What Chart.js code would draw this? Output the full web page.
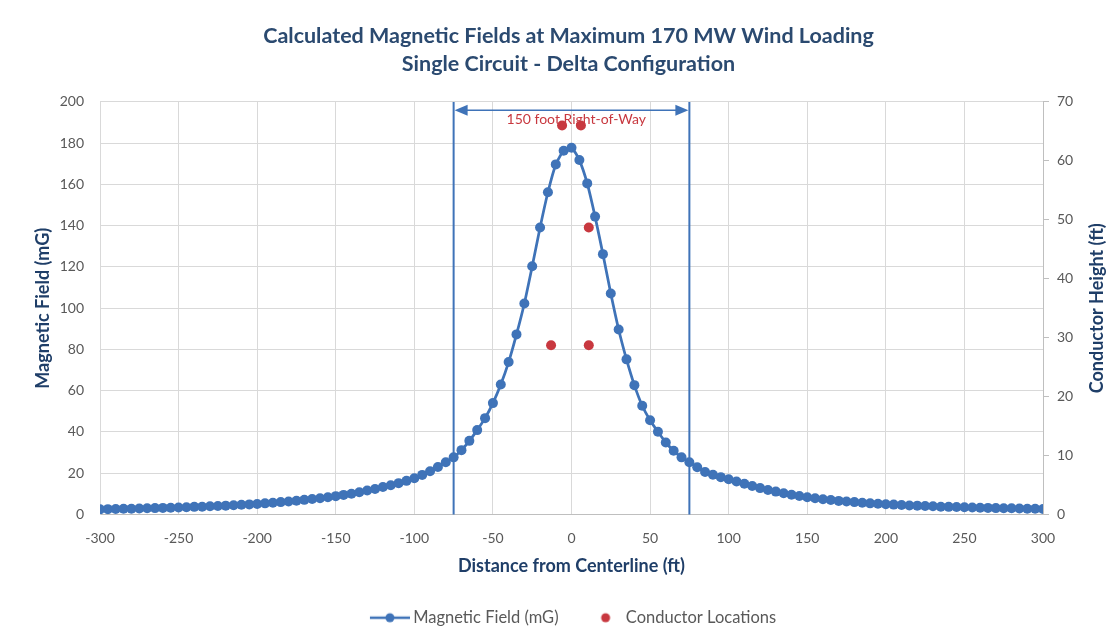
<!DOCTYPE html>
<html>
<head>
<meta charset="utf-8">
<script src="https://cdn.jsdelivr.net/npm/chart.js@4/dist/chart.umd.min.js"></script>
<style>
	html, body { margin: 0; padding: 0; background: #ffffff; }
	#wrap { width: 1113px; height: 640px; }
</style>
</head>
<body>
<div id="wrap"><canvas id="fieldChart" width="1113" height="640"></canvas></div>
<script type="text/javascript">
	/*jshint esversion: 6 */
	var distances = [
		-300, -295, -290, -285, -280, -275, -270, -265, -260, -255, -250, -245, -240, -235, -230, -225,
		-220, -215, -210, -205, -200, -195, -190, -185, -180, -175, -170, -165, -160, -155, -150, -145,
		-140, -135, -130, -125, -120, -115, -110, -105, -100, -95, -90, -85, -80, -75, -70, -65,
		-60, -55, -50, -45, -40, -35, -30, -25, -20, -15, -10, -5, 0, 5, 10, 15,
		20, 25, 30, 35, 40, 45, 50, 55, 60, 65, 70, 75, 80, 85, 90, 95,
		100, 105, 110, 115, 120, 125, 130, 135, 140, 145, 150, 155, 160, 165, 170, 175,
		180, 185, 190, 195, 200, 205, 210, 215, 220, 225, 230, 235, 240, 245, 250, 255,
		260, 265, 270, 275, 280, 285, 290, 295, 300
	];
	var fieldValues = [
		2.5, 2.6, 2.7, 2.8, 2.8, 2.9, 3.0, 3.1, 3.2, 3.3, 3.4, 3.5, 3.7, 3.8, 4.0, 4.1,
		4.3, 4.5, 4.7, 4.9, 5.1, 5.4, 5.7, 6.0, 6.3, 6.7, 7.1, 7.5, 7.9, 8.4, 8.9, 9.5,
		10.1, 10.8, 11.6, 12.4, 13.3, 14.2, 15.2, 16.3, 17.6, 19.2, 21.0, 23.0, 25.3, 27.7, 31.2, 35.7,
		40.9, 46.7, 54.0, 63.0, 73.9, 87.3, 102.3, 120.3, 139.1, 156.2, 169.7, 176.3, 177.8, 171.8, 160.5, 144.4,
		126.2, 107.1, 89.7, 75.2, 62.7, 52.7, 45.7, 40.1, 34.9, 30.9, 27.7, 25.3, 22.9, 20.6, 19.3, 18.1,
		17.1, 16.0, 14.9, 13.8, 12.8, 11.9, 11.1, 10.3, 9.6, 9.0, 8.4, 7.9, 7.4, 7.0, 6.6, 6.3,
		6.0, 5.7, 5.4, 5.2, 5.0, 4.8, 4.6, 4.4, 4.3, 4.1, 4.0, 3.8, 3.7, 3.6, 3.5, 3.4,
		3.3, 3.2, 3.1, 3.0, 3.0, 2.9, 2.8, 2.8, 2.7
	];
	var conductorX = [-6, 6, 11, -13, 11];
	var conductorHeight = [66, 66, 48.7, 28.7, 28.7];

	var rowEdges = [-75, 75];
	var rowArrowLevel = 196;
	var rowLabel = '150 foot Right-of-Way';
	var rowLabelX = 3;
	var rowLabelLevel = 191.5;

	var titleLines = ['Calculated Magnetic Fields at Maximum 170 MW Wind Loading', 'Single Circuit - Delta Configuration'];
	var xTitle = 'Distance from Centerline (ft)';
	var yTitle = 'Magnetic Field (mG)';
	var y2Title = 'Conductor Height (ft)';

	var colors = {
		field: '#3F73B8',
		conductor: '#C8383F',
		title: '#2B4A70',
		axisTitle: '#1F3E68',
		tick: '#595959',
		grid: '#D9D9D9',
		axis: '#BFBFBF'
	};
	var fontFamily = 'Lato, "Open Sans", sans-serif';

	function legendIcon(kind) {
		var c = document.createElement('canvas');
		var g;
		if (kind === 'line') {
			c.width = 50;
			c.height = 12;
			g = c.getContext('2d');
			g.strokeStyle = colors.field;
			g.lineWidth = 2.5;
			g.beginPath();
			g.moveTo(10, 6);
			g.lineTo(50, 6);
			g.stroke();
			g.fillStyle = colors.field;
			g.beginPath();
			g.arc(30, 6, 4.5, 0, Math.PI * 2);
			g.fill();
		} else {
			c.width = 40;
			c.height = 12;
			g = c.getContext('2d');
			g.fillStyle = colors.conductor;
			g.beginPath();
			g.arc(28, 6, 4.5, 0, Math.PI * 2);
			g.fill();
		}
		return c;
	}

	var rightOfWay = {
		id: 'rightOfWay',
		afterLayout: function(chart) {
			// the original centres title and legend a bit right of the page centre
			chart.legend.left += 14;
			chart.legend.right += 14;
			chart.titleBlock.left += 12;
			chart.titleBlock.right += 12;
		},
		beforeDatasetsDraw: function(chart) {
			var ctx = chart.ctx;
			var xs = chart.scales.x;
			var ys = chart.scales.y;
			var top = ys.getPixelForValue(ys.max);
			var bottom = ys.getPixelForValue(0);
			var ay = ys.getPixelForValue(rowArrowLevel);
			var x1 = xs.getPixelForValue(rowEdges[0]);
			var x2 = xs.getPixelForValue(rowEdges[1]);
			ctx.save();
			ctx.strokeStyle = colors.field;
			ctx.fillStyle = colors.field;
			ctx.lineWidth = 2;
			for (var i = 0; i < rowEdges.length; i++) {
				var px = xs.getPixelForValue(rowEdges[i]);
				ctx.beginPath();
				ctx.moveTo(px, top);
				ctx.lineTo(px, bottom);
				ctx.stroke();
			}
			// double arrow
			ctx.lineWidth = 1.5;
			ctx.beginPath();
			ctx.moveTo(x1 + 10, ay);
			ctx.lineTo(x2 - 10, ay);
			ctx.stroke();
			ctx.beginPath();
			ctx.moveTo(x1 + 1, ay);
			ctx.lineTo(x1 + 14, ay - 5.5);
			ctx.lineTo(x1 + 14, ay + 5.5);
			ctx.closePath();
			ctx.fill();
			ctx.beginPath();
			ctx.moveTo(x2 - 1, ay);
			ctx.lineTo(x2 - 14, ay - 5.5);
			ctx.lineTo(x2 - 14, ay + 5.5);
			ctx.closePath();
			ctx.fill();
			// label
			ctx.fillStyle = colors.conductor;
			ctx.font = '14px ' + fontFamily;
			ctx.textAlign = 'center';
			ctx.textBaseline = 'middle';
			ctx.fillText(rowLabel, xs.getPixelForValue(rowLabelX), ys.getPixelForValue(rowLabelLevel));
			ctx.restore();
		},
		afterDraw: function(chart) {
			// right axis title, read bottom to top like the left one
			var ctx = chart.ctx;
			var area = chart.chartArea;
			ctx.save();
			ctx.translate(1097, (area.top + area.bottom) / 2);
			ctx.rotate(-Math.PI / 2);
			ctx.fillStyle = colors.axisTitle;
			ctx.font = 'bold 18px ' + fontFamily;
			ctx.textAlign = 'center';
			ctx.textBaseline = 'middle';
			ctx.fillText(y2Title, 0, 0);
			ctx.restore();
		}
	};

	var fieldPoints = distances.map(function(d, i) { return { x: d, y: fieldValues[i] }; });
	var conductorPoints = conductorX.map(function(d, i) { return { x: d, y: conductorHeight[i] }; });

	var ctx = document.getElementById('fieldChart').getContext('2d');
	var chart = new Chart(ctx, {
		type: 'scatter',
		data: {
			datasets: [{
				type: 'line',
				label: 'Magnetic Field (mG)',
				data: fieldPoints,
				borderColor: colors.field,
				backgroundColor: colors.field,
				borderWidth: 2.75,
				pointRadius: 5,
				pointBorderWidth: 0,
				pointBackgroundColor: colors.field,
				tension: 0.2,
				fill: false,
				yAxisID: 'y',
				order: 1
			}, {
				type: 'scatter',
				label: 'Conductor Locations',
				data: conductorPoints,
				backgroundColor: colors.conductor,
				borderColor: colors.conductor,
				pointRadius: 5,
				pointBorderWidth: 0,
				yAxisID: 'y2',
				order: 2
			}]
		},
		options: {
			responsive: false,
			animation: false,
			layout: { padding: { left: 0, right: 0, top: 0, bottom: 4 } },
			scales: {
				x: {
					type: 'linear',
					min: -300,
					max: 300,
					ticks: { stepSize: 50, color: colors.tick, font: { family: fontFamily, size: 14 }, padding: 16 },
					grid: { color: colors.grid, drawTicks: false },
					border: { color: colors.axis },
					title: { display: true, text: xTitle, color: colors.axisTitle, font: { family: fontFamily, size: 18, weight: 'bold' }, padding: { top: 0, bottom: 14 } },
					afterFit: function(scale) { scale.height = 76; }
				},
				y: {
					position: 'left',
					min: 0,
					max: 200,
					ticks: { stepSize: 20, color: colors.tick, font: { family: fontFamily, size: 14 }, padding: 16 },
					grid: { color: colors.grid, drawTicks: false },
					border: { color: colors.grid },
					title: { display: true, text: yTitle, color: colors.axisTitle, font: { family: fontFamily, size: 18, weight: 'bold' }, padding: { top: 32 } },
					afterFit: function(scale) { scale.width = 100; }
				},
				y2: {
					position: 'right',
					min: 0,
					max: 70,
					ticks: { stepSize: 10, color: colors.tick, font: { family: fontFamily, size: 14 }, padding: 8 },
					grid: { drawOnChartArea: false, color: colors.axis, tickLength: 6 },
					border: { color: colors.axis },
					afterFit: function(scale) { scale.width = 70; }
				}
			},
			plugins: {
				title: {
					display: true,
					text: titleLines,
					color: colors.title,
					font: { family: fontFamily, size: 21.5, weight: 'bold', lineHeight: 1.3 },
					padding: { top: 22, bottom: 24 }
				},
				legend: {
					position: 'bottom',
					labels: {
						color: colors.tick,
						font: { family: fontFamily, size: 16.5 },
						usePointStyle: true,
						pointStyleWidth: 40,
						padding: 19,
						generateLabels: function(c) {
							return c.data.datasets.map(function(ds, i) {
								return {
									text: ds.label,
									pointStyle: legendIcon(i === 0 ? 'line' : 'dot'),
									fillStyle: ds.backgroundColor,
									strokeStyle: ds.backgroundColor,
									lineWidth: 0,
									fontColor: colors.tick,
									hidden: false,
									datasetIndex: i
								};
							});
						}
					}
				},
				tooltip: { enabled: false }
			}
		},
		plugins: [rightOfWay]
	});
</script>
</body>
</html>
